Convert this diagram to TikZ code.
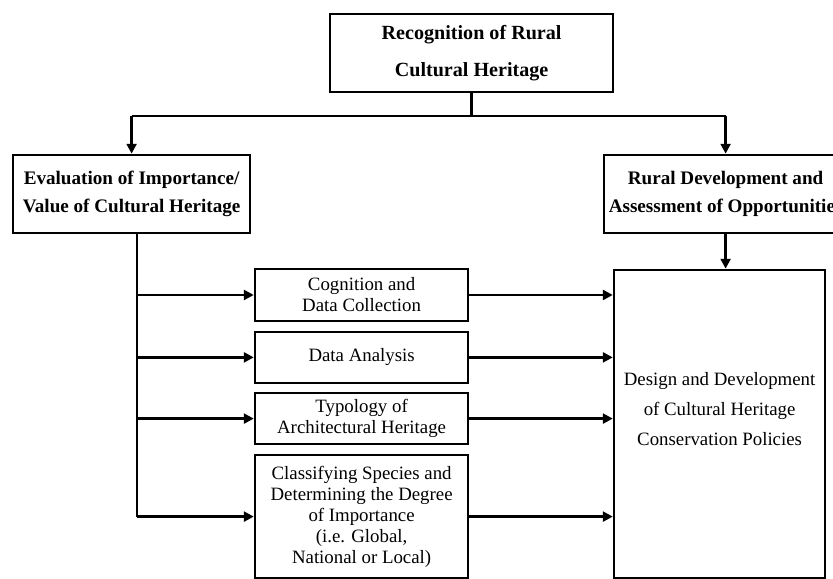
\documentclass[tikz,border=0pt]{standalone}
\usepackage{fontspec}
\setmainfont{Liberation Serif}
\usepackage{tikz}
\usetikzlibrary{positioning, arrows.meta}

\begin{document}
\begin{tikzpicture}[
      hbox/.style={rectangle, draw, line width=1.9pt, align=center,
                   font=\fontsize{13.6}{20}\selectfont\bfseries},
      sbox/.style={rectangle, draw, line width=1.9pt, align=center,
                   minimum width=5.325cm, font=\fontsize{13.4}{15}\selectfont},
      arr/.style={-{Triangle[length=7pt, width=7pt]}, line width=1.8pt}
    ]
    \useasboundingbox (0,0) rectangle (20.825,14.475);
    \clip (0,0) rectangle (20.825,14.475);

    \node[hbox, minimum width=7.075cm, minimum height=1.95cm,
          font=\fontsize{14.3}{26}\selectfont\bfseries]      (recog) at (11.79, 13.15)
          {Recognition of Rural\\Cultural Heritage};
    \node[hbox, minimum width=5.925cm, minimum height=1.95cm] (evalv) at (3.29, 9.625)
          {Evaluation of Importance/\\Value of Cultural Heritage};
    \node[hbox, minimum width=5.925cm, minimum height=1.95cm] (rural) at (18.14, 9.625)
          {Rural Development and\\Assessment of Opportunities};

    \node[sbox, minimum height=1.3cm]   (cogn) at (9.04, 7.1)
          {Cognition and\\Data Collection};
    \node[sbox, minimum height=1.275cm] (anal) at (9.04, 5.54)
          {Data Analysis};
    \node[sbox, minimum height=1.275cm] (typo) at (9.04, 4.01)
          {Typology of\\Architectural Heritage};
    \node[sbox, minimum height=3.075cm] (clas) at (9.04, 1.56)
          {Classifying Species and\\Determining the Degree\\of Importance\\(i.e. Global,\\National or Local)};

    \node[sbox, minimum width=5.275cm, minimum height=7.7cm,
          font=\fontsize{13.4}{21.5}\selectfont]                 (design) at (17.99, 3.875)
          {Design and Development\\of Cultural Heritage\\Conservation Policies\rule[-0.75cm]{0pt}{0pt}};

    % top split
    \coordinate (split) at (11.675, 11.575);
    \draw[line width=1.9pt] (recog.south) -- (recog.south |- split);
    \draw[line width=1.9pt] (evalv.north |- split) -- (rural.north |- split);
    \draw[arr] (evalv.north |- split) -- (evalv.north);
    \draw[arr] (rural.north |- split) -- (rural.north);
    \draw[arr] (rural.south) -- (rural.south |- design.north);

    % spine on the left
    \coordinate (spine) at (3.425, 8.65);
    \draw[line width=1.2pt] (spine) -- (spine |- clas.west);
    \foreach \b in {cogn, anal, typo, clas}{
      \draw[arr] (spine |- \b.west) -- (\b.west);
      \draw[arr] (\b.east) -- (\b.east -| design.west);
    }
  \end{tikzpicture}
\end{document}
